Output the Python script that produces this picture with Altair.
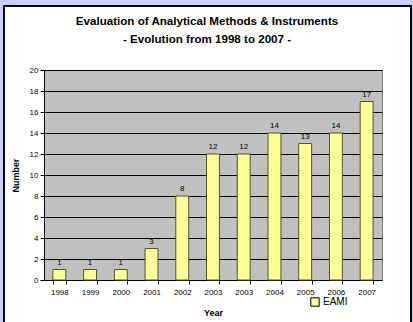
import json
import altair as alt
import pandas as pd

# Chart data
years = ["1998", "1999", "2000", "2001", "2002", "2003", "2003", "2004", "2005", "2006", "2007"]
counts = [1, 1, 1, 3, 8, 12, 12, 14, 13, 14, 17]
series_name = "EAMI"
y_ticks = [0, 2, 4, 6, 8, 10, 12, 14, 16, 18, 20]

W, H = 338, 210
FONT = "Liberation Sans"

bars_df = pd.DataFrame({
    "idx": list(range(len(years))),
    "year": years,
    "count": counts,
    "series": [series_name] * len(years),
})
one = pd.DataFrame({"k": [0]})

label_expr = json.dumps(years) + "[datum.value]"

x_enc = alt.X(
    "idx:O",
    title="Year",
    scale=alt.Scale(paddingInner=0.58, paddingOuter=0.29),
    axis=alt.Axis(
        labelExpr=label_expr, labelAngle=0, labelFont=FONT, labelFontSize=8,
        labelColor="#000000", labelPadding=4, labelOverlap=False,
        tickBand="extent", tickSize=4, grid=False,
        tickColor="#000000", domainColor="#000000", titleFont=FONT,
        titleFontSize=9, titleFontWeight="bold", titleColor="#000000",
        titlePadding=12,
    ),
)
# tickCount must not be smaller than the number of explicit values,
# otherwise Vega thins them out
y_enc = alt.Y(
    "count:Q",
    title="Number",
    scale=alt.Scale(domain=[0, 20]),
    axis=alt.Axis(
        values=y_ticks, tickCount=len(y_ticks) + 2, grid=True,
        gridColor="#000000", gridWidth=1, labelFont=FONT, labelFontSize=8,
        labelColor="#000000", labelOverlap=False, labelFlush=False,
        tickSize=4, tickColor="#000000", domainColor="#000000",
        titleFont=FONT, titleFontSize=9, titleFontWeight="bold",
        titleColor="#000000", titlePadding=9,
    ),
)

base = alt.Chart(bars_df).encode(x=x_enc, y=y_enc)

bars = base.mark_bar(stroke="#555522", strokeWidth=1).encode(
    color=alt.Color(
        "series:N",
        scale=alt.Scale(domain=[series_name], range=["#FFFF99"]),
        legend=alt.Legend(
            title=None, orient="none", legendX=266, legendY=227,
            symbolType="square", symbolSize=70, symbolStrokeColor="#000000",
            symbolStrokeWidth=1, labelFont=FONT, labelFontSize=10,
            labelColor="#000000", labelOffset=3,
        ),
    ),
)

labels = base.mark_text(
    font=FONT, fontSize=8, color="#000000", baseline="bottom", dy=-3
).encode(text=alt.Text("count:Q"))

# lavender margin and dark border around the white card
margin = alt.Chart(one).mark_rect(
    fill="#FFFFFF", fillOpacity=0, stroke="#CCCCFF", strokeWidth=10
).encode(
    x=alt.value(-46), x2=alt.value(373), y=alt.value(-70), y2=alt.value(400)
)
border = alt.Chart(one).mark_rect(
    fill="#FFFFFF", fillOpacity=0, stroke="#000000", strokeWidth=2
).encode(
    x=alt.value(-40), x2=alt.value(367), y=alt.value(-64), y2=alt.value(262)
)

chart = alt.layer(bars, labels, margin, border).properties(
    width=W,
    height=H,
    autosize=alt.AutoSizeParams(type="none"),
    padding={"left": 44, "top": 70, "right": 31, "bottom": 42},
    background="#FFFFFF",
    title=alt.TitleParams(
        text=["Evaluation of Analytical Methods & Instruments",
              "- Evolution  from 1998 to 2007 -"],
        font=FONT, fontSize=11.6, fontWeight="bold", color="#000000",
        anchor="middle", dx=-6, offset=-51, lineHeight=18,
    ),
).configure_view(fill="#C0C0C0", stroke="#808080")

chart.save("out.html", embed_options={"renderer": "svg", "actions": False})
